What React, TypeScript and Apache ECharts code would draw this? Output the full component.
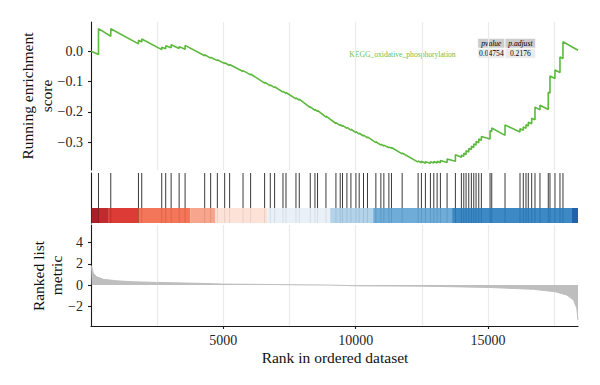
import React, { useEffect, useRef } from "react";
import * as echarts from "echarts";

// Total number of ranked genes (x-axis extent)
const geneCount = 18400;

// Ranks of the gene-set members in the ordered list
const hitRanks = [
  283, 747, 1793, 1917, 2672, 2823, 3027, 3329, 3555, 4295, 4521, 4774, 5050, 5238,
  5744, 6031, 6559, 6774, 6937, 7254, 7367, 7744, 7869, 8284, 8461, 8559, 8877, 9254,
  9416, 9503, 9669, 9820, 10009, 10133, 10296, 10446, 10763, 10952, 11065, 11254,
  11352, 11756, 12359, 12484, 12635, 12824, 12952, 13077, 13201, 13454, 13768, 13994,
  14085, 14171, 14273, 14371, 14462, 14549, 14651, 14749, 15077, 15141, 15643, 16209,
  16333, 16435, 16522, 16650, 16775, 16963, 17277, 17341, 17530, 17719, 17832,
];

// Running enrichment score: [rank, score] vertices (value before / after each hit)
const runningScore: [number, number][] = [
  [0, 0.0],
  [283, -0.011], [283, 0.074],
  [747, 0.049], [747, 0.074],
  [1793, 0.024], [1793, 0.036],
  [1917, 0.030], [1917, 0.040],
  [2672, 0.005], [2672, 0.013],
  [2823, 0.008], [2823, 0.018],
  [3027, 0.011], [3027, 0.021],
  [3329, 0.009], [3329, 0.015],
  [3555, 0.006], [3555, 0.019],
  [4295, -0.015], [4295, -0.012],
  [4521, -0.023], [4521, -0.020],
  [4774, -0.031], [4774, -0.028],
  [5050, -0.041], [5050, -0.038],
  [5238, -0.047], [5238, -0.044],
  [5744, -0.067], [5744, -0.064],
  [6031, -0.078], [6031, -0.075],
  [6559, -0.105], [6559, -0.102],
  [6774, -0.114], [6774, -0.111],
  [6937, -0.120], [6937, -0.117],
  [7254, -0.135], [7254, -0.132],
  [7367, -0.139], [7367, -0.136],
  [7744, -0.157], [7744, -0.154],
  [7869, -0.161], [7869, -0.158],
  [8284, -0.186], [8284, -0.183],
  [8461, -0.195], [8461, -0.192],
  [8559, -0.198], [8559, -0.195],
  [8877, -0.217], [8877, -0.214],
  [9254, -0.238], [9254, -0.235],
  [9416, -0.245], [9416, -0.242],
  [9503, -0.247], [9503, -0.244],
  [9669, -0.254], [9669, -0.251],
  [9820, -0.260], [9820, -0.257],
  [10009, -0.268], [10009, -0.265],
  [10133, -0.273], [10133, -0.270],
  [10296, -0.279], [10296, -0.276],
  [10446, -0.285], [10446, -0.282],
  [10763, -0.301], [10763, -0.298],
  [10952, -0.309], [10952, -0.306],
  [11065, -0.312], [11065, -0.309],
  [11254, -0.318], [11254, -0.315],
  [11352, -0.320], [11352, -0.317],
  [11756, -0.338], [11756, -0.335],
  [12359, -0.365], [12359, -0.361],
  [12484, -0.367], [12484, -0.362],
  [12635, -0.369], [12635, -0.364],
  [12824, -0.369], [12824, -0.364],
  [12952, -0.368], [12952, -0.363],
  [13077, -0.368], [13077, -0.362],
  [13201, -0.367], [13201, -0.360],
  [13454, -0.366], [13454, -0.355],
  [13768, -0.362], [13768, -0.341],
  [13994, -0.349], [13994, -0.342],
  [14085, -0.346], [14085, -0.336],
  [14171, -0.340], [14171, -0.328],
  [14273, -0.332], [14273, -0.320],
  [14371, -0.324], [14371, -0.313],
  [14462, -0.317], [14462, -0.305],
  [14549, -0.309], [14549, -0.297],
  [14651, -0.301], [14651, -0.289],
  [14749, -0.293], [14749, -0.281],
  [15077, -0.289], [15077, -0.262],
  [15141, -0.264], [15141, -0.253],
  [15643, -0.277], [15643, -0.243],
  [16209, -0.266], [16209, -0.255],
  [16333, -0.260], [16333, -0.249],
  [16435, -0.254], [16435, -0.242],
  [16522, -0.246], [16522, -0.234],
  [16650, -0.239], [16650, -0.221],
  [16775, -0.226], [16775, -0.184],
  [16963, -0.193], [16963, -0.178],
  [17277, -0.192], [17277, -0.135],
  [17341, -0.138], [17341, -0.082],
  [17530, -0.090], [17530, -0.062],
  [17719, -0.070], [17719, -0.019],
  [17832, -0.024], [17832, 0.031],
  [18400, 0.003],
];

// Ranked list metric: [rank, metric]
const rankedMetric: [number, number][] = [
  [0, 1.85], [25, 1.72], [90, 1.1], [215, 0.78], [465, 0.54], [970, 0.4],
  [1600, 0.31], [2480, 0.25], [4120, 0.16], [5000, 0.09], [6640, 0.06],
  [7900, 0.02], [9000, 0.0], [10050, -0.07], [12500, -0.1], [15010, -0.22],
  [16720, -0.4], [17540, -0.63], [17980, -0.94], [18230, -1.41], [18355, -2.19],
  [18400, -3.29],
];

// Colour band under the hit ticks: band edges (ranks) and fills
const bandEdges = [0, 283, 672, 1793, 3755, 4699, 6661, 9039, 10662, 13643, 18172, 18400];
const bandFills = [
  "#9f0812", "#bd1318", "#d8271f", "#f26648", "#f69c81", "#fddfd3",
  "#e7eef7", "#abcee8", "#5fa3d4", "#277cbf", "#0951a1",
];

const esTicks = [-0.3, -0.2, -0.1, 0];
const metricTicks = [-2, 0, 2, 4];
const rankTicks = [5000, 10000, 15000];

const geneSetName = "KEGG_oxidative_phosphorylation";
const statHeaders = ["pvalue", "p.adjust"];
const statValues = ["0.04754", "0.2176"];

const FONT = "'Liberation Serif', 'DejaVu Serif', serif";
const AXIS_COLOR = "#1a1a1a";
const GRID_COLOR = "#ebebeb";
const ES_COLOR = "#5cb93d";

const minus = (v: number, digits: number) =>
  (v < 0 ? "\u2212" : "") + Math.abs(v).toFixed(digits);

function buildOption(): echarts.EChartsOption {
  const left = 91;
  const right = 22;

  const bands = bandFills.map((_, i) => [bandEdges[i], bandEdges[i + 1], i]);
  const hits = hitRanks.map((r) => [r, 1]);

  const splitAxis = (gridIndex: number, position: "top" | "bottom") => ({
    type: "value" as const,
    gridIndex,
    position,
    min: 0,
    max: geneCount,
    interval: 2500,
    axisLine: { show: false },
    axisTick: { show: false },
    axisLabel: { show: false },
    splitLine: {
      show: true,
      showMinLine: false,
      showMaxLine: false,
      lineStyle: { color: GRID_COLOR, width: 1.2 },
    },
  });

  const tableX0 = 477.7;
  const tableMid = 505;
  const tableX1 = 535.7;
  const rowH = 10;
  const rowY0 = 38.3;

  const cellText = (x: number, y: number, text: string, italic: boolean) => ({
    type: "text",
    x,
    y,
    style: {
      text,
      fontSize: 7.6,
      fontStyle: italic ? "italic" : "normal",
      fontFamily: FONT,
      fill: "#000000",
      align: "center",
      verticalAlign: "middle",
    },
  });

  const cellRect = (x: number, y: number, w: number, fill: string) => ({
    type: "rect",
    shape: { x, y, width: w, height: rowH },
    style: { fill, stroke: "#ffffff", lineWidth: 0.8 },
  });

  const title = (x: number, y: number, text: string, rotated: boolean) => ({
    type: "text",
    x,
    y,
    rotation: rotated ? Math.PI / 2 : 0,
    style: {
      text,
      fontSize: 15.5,
      fontFamily: FONT,
      fill: "#111111",
      align: "center",
      verticalAlign: "middle",
    },
  });

  return {
    animation: false,
    backgroundColor: "#ffffff",
    textStyle: { fontFamily: FONT },
    grid: [
      { left, right, top: 22, height: 148, containLabel: false, outerBoundsMode: "none" } as any,
      { left, right, top: 173, height: 50, containLabel: false, outerBoundsMode: "none" } as any,
      { left, right, top: 225, height: 101, containLabel: false, outerBoundsMode: "none" } as any,
    ],
    xAxis: [
      splitAxis(0, "bottom"),
      {
        type: "value",
        gridIndex: 1,
        min: 0,
        max: geneCount,
        axisLine: { show: false },
        axisTick: { show: false },
        axisLabel: { show: false },
        splitLine: { show: false },
      },
      splitAxis(2, "top"),
      {
        type: "value",
        gridIndex: 2,
        position: "bottom",
        min: 0,
        max: geneCount,
        axisLine: { show: true, onZero: false, lineStyle: { color: AXIS_COLOR, width: 1.1 } },
        axisTick: {
          show: true,
          length: 3,
          customValues: rankTicks,
          lineStyle: { color: AXIS_COLOR, width: 1.1 },
        } as any,
        axisLabel: {
          show: true,
          customValues: rankTicks,
          margin: 7,
          fontSize: 14,
          color: "#262626",
          fontFamily: FONT,
          formatter: (v: number) => String(Math.round(v)),
        } as any,
        splitLine: { show: false },
      },
    ],
    yAxis: [
      {
        type: "value",
        gridIndex: 0,
        min: -0.391,
        max: 0.096,
        axisLine: { show: true, lineStyle: { color: AXIS_COLOR, width: 1.1 } },
        axisTick: {
          show: true,
          length: 3,
          customValues: esTicks,
          lineStyle: { color: AXIS_COLOR, width: 1.1 },
        } as any,
        axisLabel: {
          show: true,
          customValues: esTicks,
          margin: 8,
          fontSize: 14,
          color: "#262626",
          fontFamily: FONT,
          formatter: (v: number) => minus(v, 1),
        } as any,
        splitLine: { show: false },
      },
      {
        type: "value",
        gridIndex: 1,
        min: 0,
        max: 1,
        axisLine: { show: true, lineStyle: { color: AXIS_COLOR, width: 1.1 } },
        axisTick: { show: false },
        axisLabel: { show: false },
        splitLine: { show: false },
      },
      {
        type: "value",
        gridIndex: 2,
        min: -3.85,
        max: 5.65,
        axisLine: { show: true, lineStyle: { color: AXIS_COLOR, width: 1.1 } },
        axisTick: {
          show: true,
          length: 3,
          customValues: metricTicks,
          lineStyle: { color: AXIS_COLOR, width: 1.1 },
        } as any,
        axisLabel: {
          show: true,
          customValues: metricTicks,
          margin: 8,
          fontSize: 14,
          color: "#262626",
          fontFamily: FONT,
          formatter: (v: number) => minus(v, 0),
        } as any,
        splitLine: { show: false },
      },
    ],
    series: [
      {
        type: "line",
        name: geneSetName,
        xAxisIndex: 0,
        yAxisIndex: 0,
        data: runningScore,
        showSymbol: false,
        symbol: "none",
        lineStyle: { color: ES_COLOR, width: 1.6 },
        z: 3,
      },
      {
        type: "custom",
        name: "hits",
        xAxisIndex: 1,
        yAxisIndex: 1,
        data: hits,
        encode: { x: 0, y: 1 },
        z: 2,
        renderItem: (_params: any, api: any) => {
          const top = api.coord([api.value(0), 1]);
          const bottom = api.coord([api.value(0), 0]);
          return {
            type: "line",
            shape: { x1: top[0], y1: top[1], x2: bottom[0], y2: bottom[1] },
            style: { stroke: "#3a3a3a", lineWidth: 1 },
          };
        },
      } as any,
      {
        type: "custom",
        name: "band",
        xAxisIndex: 1,
        yAxisIndex: 1,
        data: bands,
        encode: { x: [0, 1] },
        z: 4,
        renderItem: (_params: any, api: any) => {
          const p0 = api.coord([api.value(0), 0.3]);
          const p1 = api.coord([api.value(1), 0]);
          return {
            type: "rect",
            shape: { x: p0[0], y: p0[1], width: p1[0] - p0[0], height: p1[1] - p0[1] },
            style: { fill: bandFills[api.value(2)], opacity: 0.9 },
          };
        },
      } as any,
      {
        type: "line",
        name: "metric",
        xAxisIndex: 3,
        yAxisIndex: 2,
        data: rankedMetric,
        showSymbol: false,
        symbol: "none",
        lineStyle: { color: "#bebebe", width: 1 },
        areaStyle: { color: "#bebebe", opacity: 1, origin: 0 } as any,
        z: 2,
      },
    ],
    graphic: [
      title(27, 96, "Running enrichment", true),
      title(46.5, 96, "score", true),
      title(38, 276, "Ranked list", true),
      title(56.5, 275.5, "metric", true),
      title(335, 357, "Rank in ordered dataset", false),
      {
        type: "text",
        x: 402.5,
        y: 54,
        style: {
          text: geneSetName,
          fontSize: 7.6,
          fontFamily: FONT,
          fill: "#6dbf4b",
          align: "center",
          verticalAlign: "middle",
        },
      },
      // p-value table
      cellRect(tableX0, rowY0, tableMid - tableX0, "#cccccc"),
      cellRect(tableMid, rowY0, tableX1 - tableMid, "#cccccc"),
      cellRect(tableX0, rowY0 + rowH, tableMid - tableX0, "#ebebeb"),
      cellRect(tableMid, rowY0 + rowH, tableX1 - tableMid, "#ebebeb"),
      cellText((tableX0 + tableMid) / 2, rowY0 + rowH / 2, statHeaders[0], true),
      cellText((tableMid + tableX1) / 2, rowY0 + rowH / 2, statHeaders[1], true),
      cellText((tableX0 + tableMid) / 2, rowY0 + rowH * 1.5, statValues[0], false),
      cellText((tableMid + tableX1) / 2, rowY0 + rowH * 1.5, statValues[1], false),
    ],
  } as echarts.EChartsOption;
}

export default function App() {
  const ref = useRef<HTMLDivElement>(null);

  useEffect(() => {
    document.body.style.margin = "0";
    if (!ref.current) return;
    const chart = echarts.init(ref.current, null, { renderer: "svg" });
    chart.setOption(buildOption());
    return () => chart.dispose();
  }, []);

  return <div ref={ref} style={{ width: 600, height: 385 }} />;
}
